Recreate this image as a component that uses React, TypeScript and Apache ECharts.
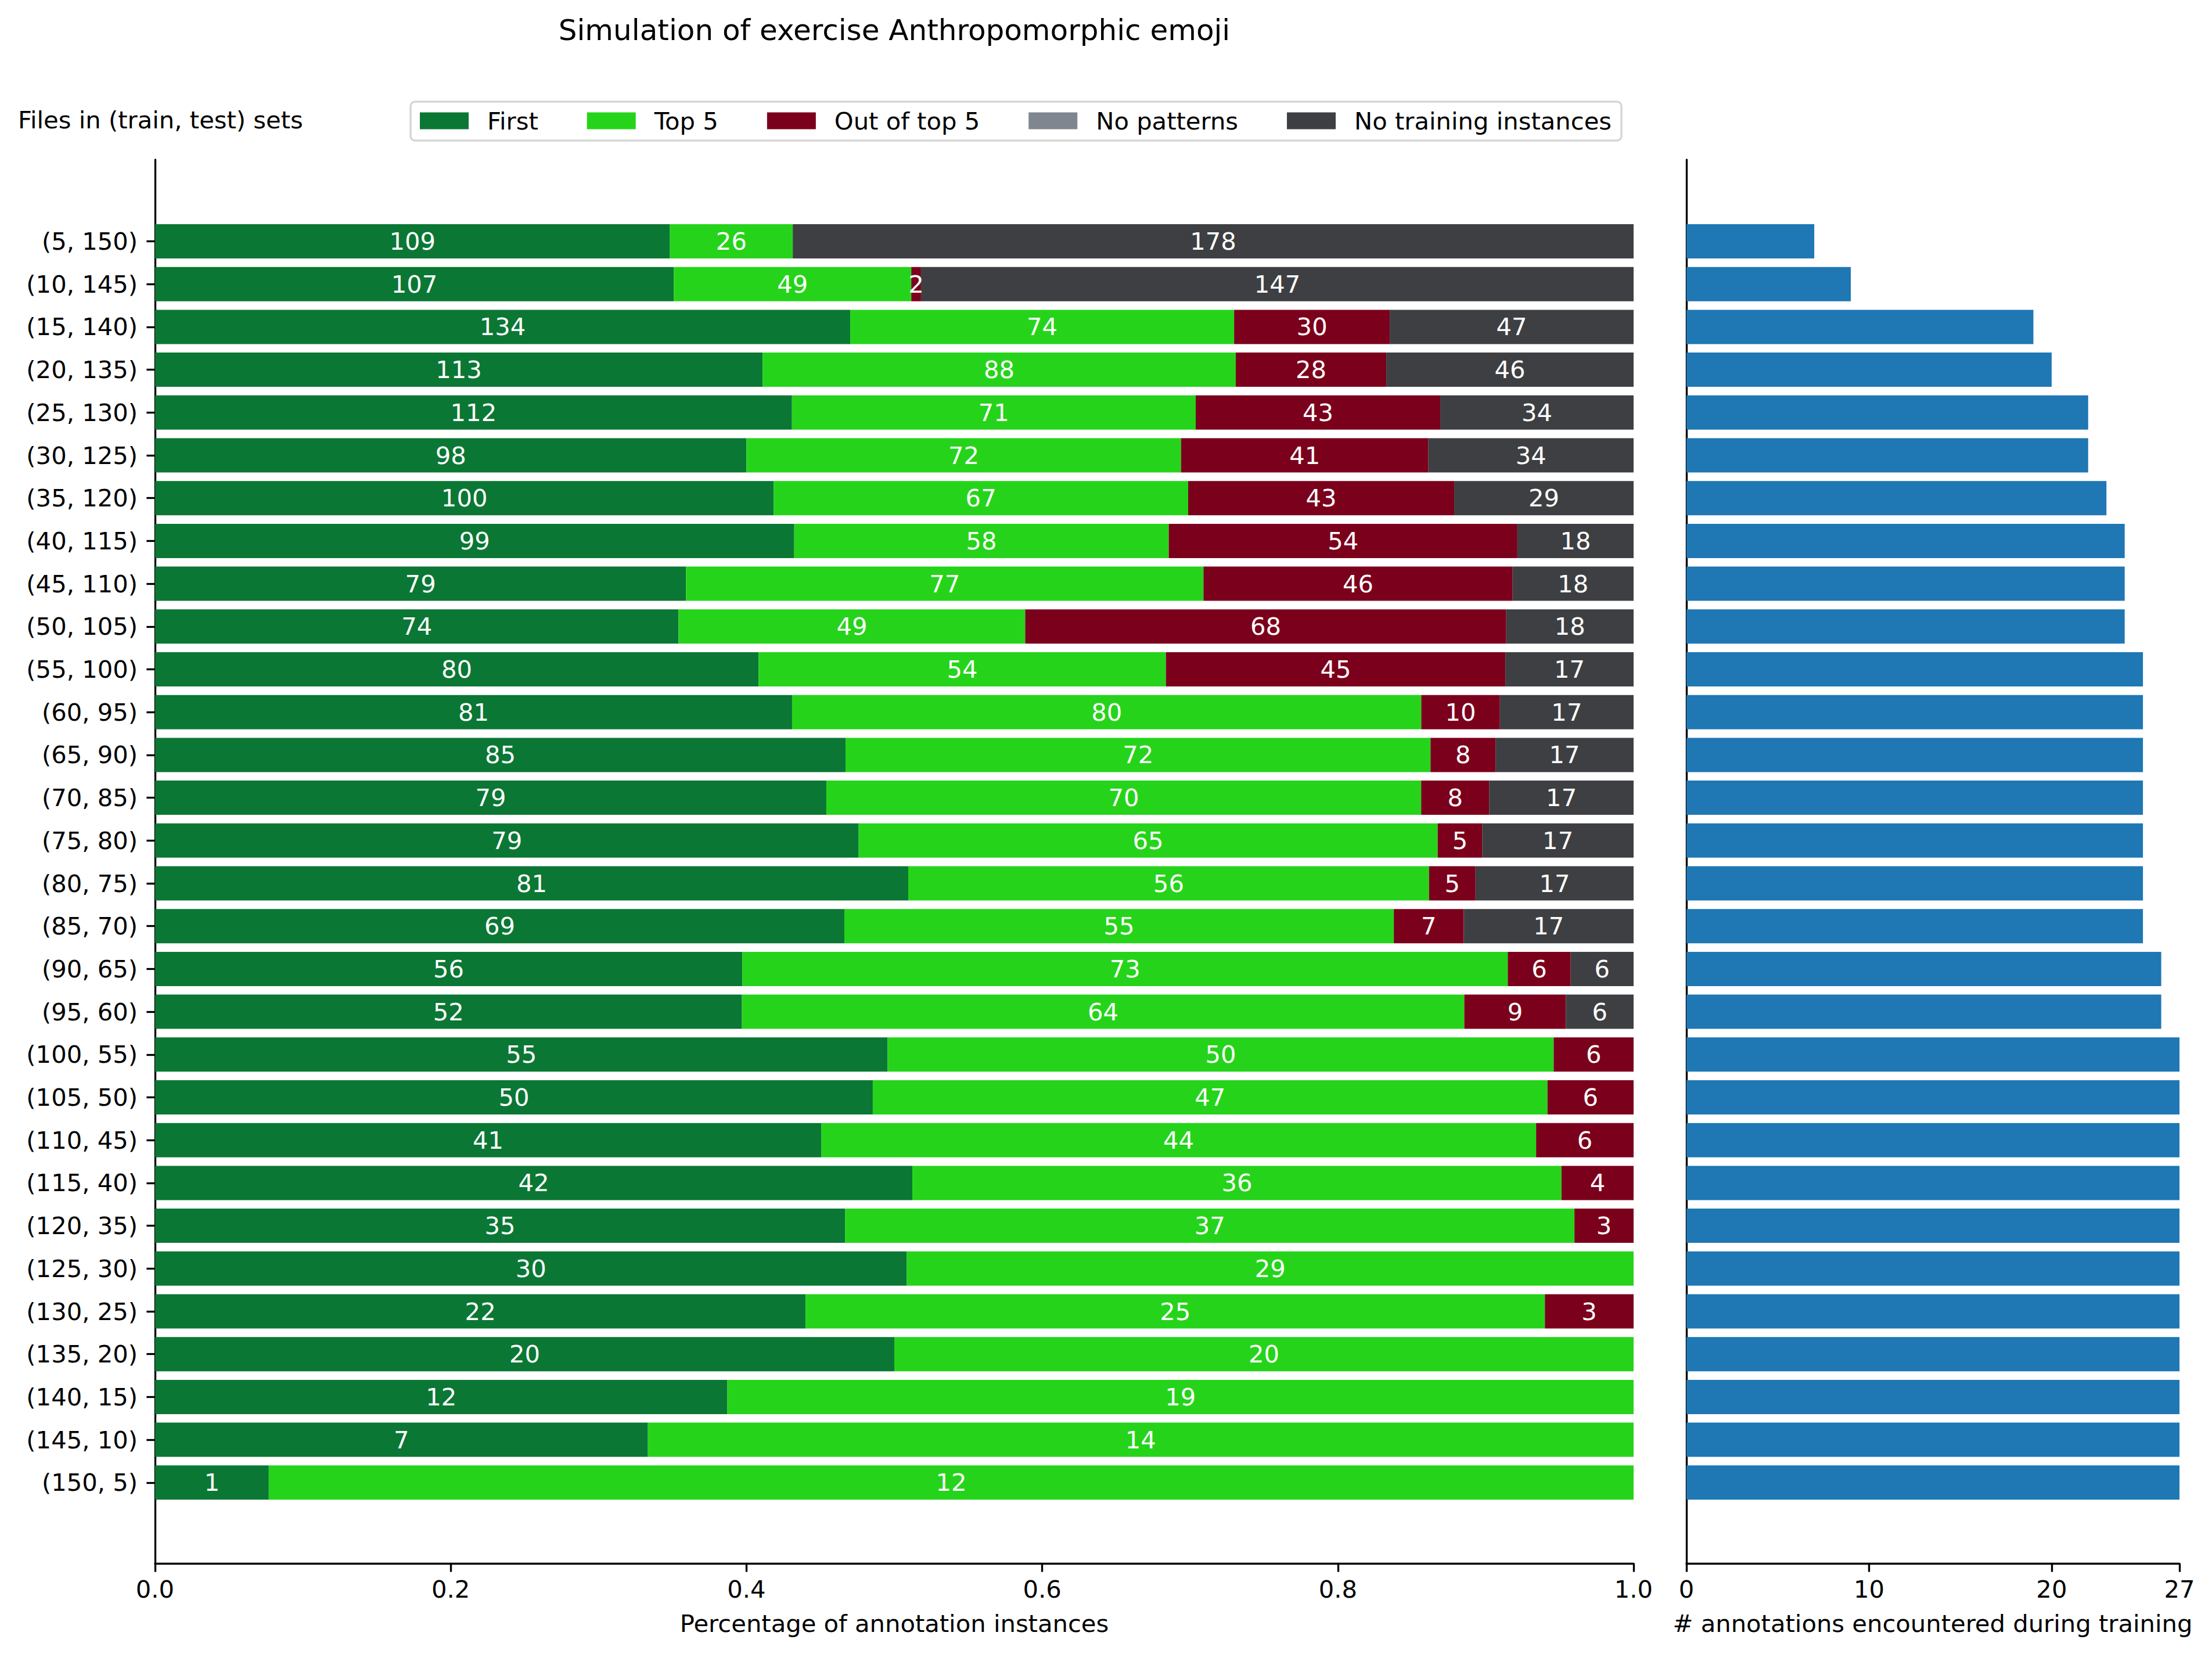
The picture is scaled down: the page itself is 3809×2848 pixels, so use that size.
import React, { useEffect, useRef } from "react";
import * as echarts from "echarts";

const CATEGORIES = [
  "(5, 150)", "(10, 145)", "(15, 140)", "(20, 135)", "(25, 130)", "(30, 125)",
  "(35, 120)", "(40, 115)", "(45, 110)", "(50, 105)", "(55, 100)", "(60, 95)",
  "(65, 90)", "(70, 85)", "(75, 80)", "(80, 75)", "(85, 70)", "(90, 65)",
  "(95, 60)", "(100, 55)", "(105, 50)", "(110, 45)", "(115, 40)", "(120, 35)",
  "(125, 30)", "(130, 25)", "(135, 20)", "(140, 15)", "(145, 10)", "(150, 5)",
];

const FIRST = [109, 107, 134, 113, 112, 98, 100, 99, 79, 74, 80, 81, 85, 79, 79, 81, 69, 56, 52, 55, 50, 41, 42, 35, 30, 22, 20, 12, 7, 1];
const TOP5 = [26, 49, 74, 88, 71, 72, 67, 58, 77, 49, 54, 80, 72, 70, 65, 56, 55, 73, 64, 50, 47, 44, 36, 37, 29, 25, 20, 19, 14, 12];
const OUT_OF_TOP5 = [0, 2, 30, 28, 43, 41, 43, 54, 46, 68, 45, 10, 8, 8, 5, 5, 7, 6, 9, 6, 6, 6, 4, 3, 0, 3, 0, 0, 0, 0];
const NO_PATTERNS = [0, 0, 0, 0, 0, 0, 0, 0, 0, 0, 0, 0, 0, 0, 0, 0, 0, 0, 0, 0, 0, 0, 0, 0, 0, 0, 0, 0, 0, 0];
const NO_TRAINING = [178, 147, 47, 46, 34, 34, 29, 18, 18, 18, 17, 17, 17, 17, 17, 17, 17, 6, 6, 0, 0, 0, 0, 0, 0, 0, 0, 0, 0, 0];
const ANNOTATIONS = [7, 9, 19, 20, 22, 22, 23, 24, 24, 24, 25, 25, 25, 25, 25, 25, 25, 26, 26, 27, 27, 27, 27, 27, 27, 27, 27, 27, 27, 27];

const SERIES_NAMES = ["First", "Top 5", "Out of top 5", "No patterns", "No training instances"];
const SERIES_COLORS = ["#0b7734", "#25d41a", "#7b001c", "#80868f", "#3e3f42"];
const LEFT_TICKS = [0, 0.2, 0.4, 0.6, 0.8, 1.0];
const RIGHT_TICKS = [0, 10, 20, 27];

const FONT = "DejaVu Sans";
const FS = 41.7;
const LW = 3.33;

export default function App() {
  const ref = useRef<HTMLDivElement>(null);
  useEffect(() => {
    document.body.style.margin = "0";
    const chart = echarts.init(ref.current!, null, { renderer: "svg" });
    const groups = [FIRST, TOP5, OUT_OF_TOP5, NO_PATTERNS, NO_TRAINING];
    const totals = CATEGORIES.map((_, i) => groups.reduce((s, g) => s + g[i], 0));

    const barTop = 378.65;
    const barH = 2211;
    const axTop = 275;
    const axH = 2692 - 275;
    const leftX = 267;
    const leftW = 2813 - 267;
    const rightX = 2904;
    const rightW = 3753 - 2904;

    const axisLine = { show: true, lineStyle: { color: "#000", width: LW } };
    const tick = { show: true, length: 14.6, lineStyle: { color: "#000", width: LW } };
    const lbl = { color: "#000", fontSize: FS, fontFamily: FONT };

    const stacked = groups.map((g, si) => ({
      type: "bar",
      name: SERIES_NAMES[si],
      stack: "total",
      xAxisIndex: 0,
      yAxisIndex: 0,
      barWidth: "80%",
      itemStyle: { color: SERIES_COLORS[si] },
      label: {
        show: true,
        position: "inside",
        color: "#fff",
        fontSize: FS,
        fontFamily: FONT,
      },
      data: g.map((c, i) => ({
        value: c / totals[i],
        label: { show: c > 0, formatter: String(c) },
      })),
    }));

    chart.setOption({
      animation: false,
      backgroundColor: "#fff",
      textStyle: { fontFamily: FONT },
      grid: [
        { left: leftX, top: barTop, width: leftW, height: barH, containLabel: false },
        { left: leftX, top: axTop, width: leftW, height: axH, containLabel: false },
        { left: rightX, top: barTop, width: rightW, height: barH, containLabel: false },
        { left: rightX, top: axTop, width: rightW, height: axH, containLabel: false },
      ],
      xAxis: [
        { gridIndex: 0, type: "value", min: 0, max: 1, show: false },
        {
          gridIndex: 1, type: "value", min: 0, max: 1, interval: 0.2,
          axisLine, axisTick: { ...tick, customValues: LEFT_TICKS },
          axisLabel: { ...lbl, margin: 23, customValues: LEFT_TICKS, formatter: (v: number) => v.toFixed(1) },
          splitLine: { show: false },
        },
        { gridIndex: 2, type: "value", min: 0, max: 27, show: false },
        {
          gridIndex: 3, type: "value", min: 0, max: 27,
          axisLine, axisTick: { ...tick, customValues: RIGHT_TICKS },
          axisLabel: { ...lbl, margin: 23, customValues: RIGHT_TICKS, formatter: (v: number) => String(v) },
          splitLine: { show: false },
        },
      ],
      yAxis: [
        {
          gridIndex: 0, type: "category", data: CATEGORIES, inverse: true,
          axisLine: { show: false },
          axisTick: { ...tick, alignWithLabel: true },
          axisLabel: { ...lbl, margin: 30 },
          splitLine: { show: false },
        },
        {
          gridIndex: 1, type: "value", min: 0, max: 1,
          axisLine, axisTick: { show: false }, axisLabel: { show: false }, splitLine: { show: false },
        },
        { gridIndex: 2, type: "category", data: CATEGORIES, inverse: true, show: false },
        {
          gridIndex: 3, type: "value", min: 0, max: 1,
          axisLine, axisTick: { show: false }, axisLabel: { show: false }, splitLine: { show: false },
        },
      ],
      legend: {
        data: SERIES_NAMES,
        left: 707,
        top: 175,
        orient: "horizontal",
        icon: "rect",
        itemWidth: 84,
        itemHeight: 29,
        itemGap: 84,
        padding: [12, 17, 13, 16],
        backgroundColor: "#fff",
        borderColor: "#d6d6d6",
        borderWidth: 3.5,
        borderRadius: 8,
        selectedMode: false,
        textStyle: { color: "#000", fontSize: FS, fontFamily: FONT, padding: [0, 0, 0, 27] },
      },
      graphic: [
        {
          type: "text", x: 1540, y: 52,
          style: { text: "Simulation of exercise Anthropomorphic emoji", fill: "#000", font: `50px "${FONT}"`, align: "center", verticalAlign: "middle" },
        },
        {
          type: "text", x: 31, y: 206,
          style: { text: "Files in (train, test) sets", fill: "#000", font: `${FS}px "${FONT}"`, align: "left", verticalAlign: "middle" },
        },
        {
          type: "text", x: 1540, y: 2795,
          style: { text: "Percentage of annotation instances", fill: "#000", font: `${FS}px "${FONT}"`, align: "center", verticalAlign: "middle" },
        },
        {
          type: "text", x: 3328, y: 2795,
          style: { text: "# annotations encountered during training", fill: "#000", font: `${FS}px "${FONT}"`, align: "center", verticalAlign: "middle" },
        },
      ],
      series: [
        ...stacked,
        {
          type: "bar",
          name: "annotations",
          xAxisIndex: 2,
          yAxisIndex: 2,
          barWidth: "80%",
          itemStyle: { color: "#1f77b4" },
          data: ANNOTATIONS,
        },
      ],
    });
    return () => chart.dispose();
  }, []);
  return <div ref={ref} style={{ position: "absolute", left: 0, top: 0, width: 3809, height: 2848 }} />;
}
